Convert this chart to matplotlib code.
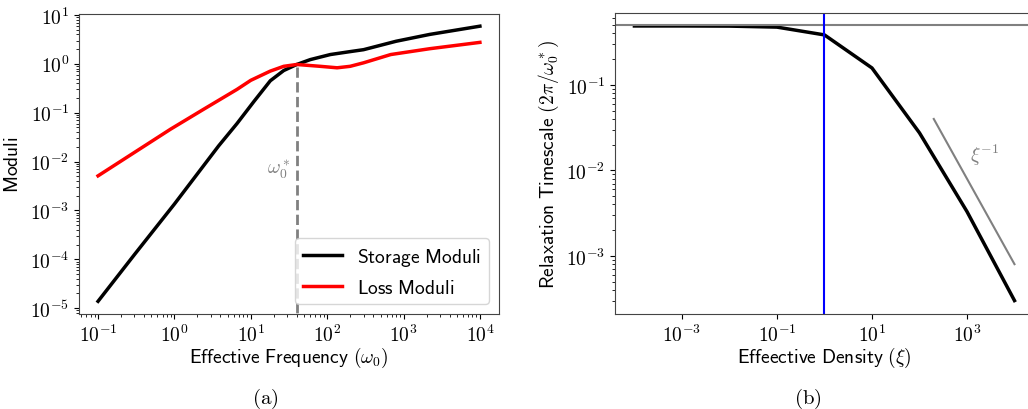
import numpy as np
import matplotlib
matplotlib.use("Agg")
import matplotlib.pyplot as plt
from matplotlib.ticker import FuncFormatter, NullFormatter, NullLocator, FixedLocator

plt.rcParams["mathtext.fontset"] = "cm"

# --- panel (a): moduli vs effective frequency
freq_storage = [0.1, 0.3, 1.0, 3.8, 6.6, 11, 18, 27, 40, 60, 110, 200, 300, 800, 2200, 10000]
storage = [1.38e-5, 1.25e-4, 1.35e-3, 0.021, 0.06, 0.17, 0.45, 0.73, 0.97, 1.22, 1.55, 1.78, 1.95, 2.9, 4.0, 5.9]

freq_loss = [0.1, 0.89, 2.4, 6.6, 10, 18, 27, 40, 81, 135, 200, 300, 680, 2200, 10000]
loss = [0.0051, 0.046, 0.117, 0.30, 0.46, 0.71, 0.89, 0.97, 0.89, 0.83, 0.89, 1.05, 1.55, 2.04, 2.75]

omega_star = 40

# --- panel (b): relaxation timescale vs effective density
density = [1e-4, 1e-3, 1e-2, 1e-1, 1, 10, 100, 1000, 10000]
timescale = [0.49, 0.49, 0.488, 0.475, 0.385, 0.158, 0.0275, 0.0033, 0.0003]
plateau = 0.5
slope_x = [200, 10000]
slope_y = [0.04, 0.0008]


def pow10(v, pos):
    return r"$10^{%d}$" % int(round(np.log10(v)))


fig = plt.figure(figsize=(10.28, 4.10), dpi=100)
ax1 = fig.add_axes([0.0768, 0.2317, 0.4086, 0.7317])
ax2 = fig.add_axes([0.5982, 0.2317, 0.4076, 0.7342])

ax1.plot(freq_storage, storage, color="black", lw=2.5, label=r"$\mathsf{Storage\ Moduli}$")
ax1.plot(freq_loss, loss, color="red", lw=2.5, label=r"$\mathsf{Loss\ Moduli}$")
ax1.plot([omega_star, omega_star], [1e-6, 1.0], color="gray", lw=2, ls="--")
ax1.text(23, 0.007, r"$\omega_0^*$", color="gray", fontsize=14, ha="center", va="center")
ax1.set_xscale("log")
ax1.set_yscale("log")
ax1.set_xlim(10**-1.25, 10**4.25)
ax1.set_ylim(10**-5.12, 10**1.02)
ax1.set_xlabel(r"$\mathsf{Effective\ Frequency}\ (\omega_0)$", fontsize=14, labelpad=0)
ax1.set_ylabel(r"$\mathsf{Moduli}$", fontsize=14, labelpad=6)
ax1.legend(loc="lower right", fontsize=14, handlelength=2.0)

ax2.plot(density, timescale, color="black", lw=2.5)
ax2.axhline(plateau, color="gray", lw=1.5)
ax2.axvline(1.0, color="blue", lw=1.5)
ax2.plot(slope_x, slope_y, color="gray", lw=1.5)
ax2.text(2400, 0.0156, r"$\xi^{-1}$", color="gray", fontsize=14, ha="center", va="center")
ax2.set_xscale("log")
ax2.set_yscale("log")
ax2.set_xlim(10**-4.41, 10**4.41)
ax2.set_ylim(10**-3.68, 10**-0.158)
ax2.xaxis.set_major_locator(FixedLocator([1e-3, 1e-1, 1e1, 1e3]))
ax2.xaxis.set_minor_locator(NullLocator())
ax2.set_xlabel(r"$\mathsf{Effeective\ Density}\ (\xi)$", fontsize=14, labelpad=0)
ax2.set_ylabel(r"$\mathsf{Relaxation\ Timescale}\ (2\pi/\omega_0^*)$", fontsize=14)

for ax in (ax1, ax2):
    ax.xaxis.set_major_formatter(FuncFormatter(pow10))
    ax.yaxis.set_major_formatter(FuncFormatter(pow10))
    ax.xaxis.set_minor_formatter(NullFormatter())
    ax.yaxis.set_minor_formatter(NullFormatter())
    ax.tick_params(labelsize=14)
    for s in ax.spines.values():
        s.set_color("#444444")

fig.text(0.258, 0.026, r"$\mathrm{(a)}$", fontsize=15, ha="center", va="center")
fig.text(0.786, 0.026, r"$\mathrm{(b)}$", fontsize=15, ha="center", va="center")

fig.savefig("out.png", dpi=100)
